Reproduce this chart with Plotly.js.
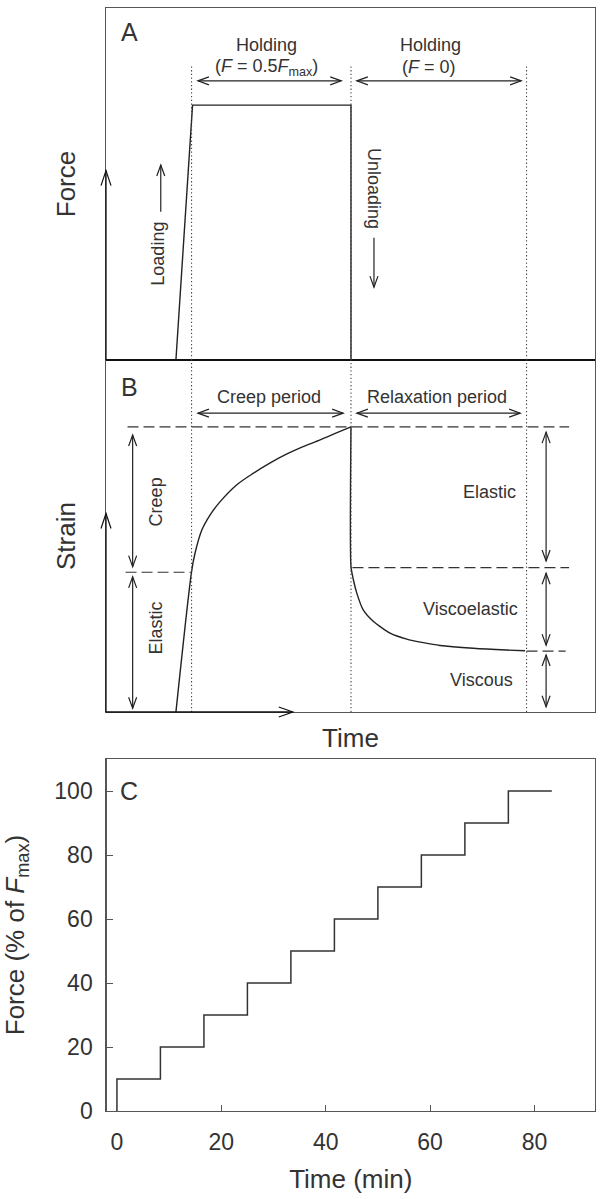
<!DOCTYPE html>
<html><head><meta charset="utf-8">
<script src="https://cdn.plot.ly/plotly-3.0.1.min.js"></script>
<style>html,body{margin:0;padding:0;background:#fff}#chart{width:601px;height:1199px}</style>
</head><body><div id="chart"></div>
<script>
// ---------- Panel A: loading protocol (schematic units) ----------
const loadTime  = [14.3, 17.7, 50.1, 50.1];
const loadForce = [0, 72.4, 72.4, 0];
const phaseTimes = [17.5, 50.1, 86.0];          // dotted phase boundaries

// ---------- Panel B: strain response (schematic units) ----------
const creepTime   = [14.3, 17.5, 18.2, 19.6, 21.3, 23.3, 26.7, 30.1, 33.5, 37.0, 40.3, 43.8, 47.0, 50.1];
const creepStrain = [0, 39.9, 45.1, 51.7, 56.0, 59.7, 64.5, 67.8, 70.7, 73.3, 75.4, 77.3, 79.2, 81.0];
const relaxTime   = [50.1, 50.1, 50.6, 51.3, 52.6, 54.7, 58.1, 61.5, 64.9, 68.3, 75.1, 81.9, 85.7];
const relaxStrain = [81.0, 41.3, 37.5, 33.7, 29.0, 25.7, 22.4, 20.7, 19.7, 18.9, 18.1, 17.6, 17.4];
const levelPeak = 81.0, levelElasticLeft = 39.7, levelElasticRight = 41.0, levelResidual = 17.3;

// ---------- Panel C: stepwise loading ----------
const stepStartMin = [0, 8.33, 16.67, 25, 33.33, 41.67, 50, 58.33, 66.67, 75];
const stepForcePct = [10, 20, 30, 40, 50, 60, 70, 80, 90, 100];
const stepEndMin = 83.33;
const xTicksC = [0, 20, 40, 60, 80];
const yTicksC = [0, 20, 40, 60, 80, 100];

// ---------- helpers ----------
const W = 601, H = 1199;
const FONT = 'Liberation Sans, Arial, sans-serif';
const TXT = '#333', LN = '#222', BOX = '#555';
const DATA = {kx: 489 / 100, ky: 352 / 100};   // px per unit in panels A and B (data refs)
const DOM = {kx: 489, ky: 352};               // px per unit for domain refs
const shapes = [];
function seg(xr, yr, x0, y0, x1, y1, opt) {
  opt = opt || {};
  shapes.push({type: 'line', xref: xr, yref: yr, x0: x0, y0: y0, x1: x1, y1: y1,
    line: {color: opt.color || LN, width: opt.width || 1.2, dash: opt.dash || 'solid'}, layer: 'above'});
}
function head(xr, yr, tx, ty, dir, len, half, color, sc) {
  sc = sc || DATA;
  const kx = sc.kx, ky = sc.ky;
  let a, b;
  if (dir === 'up')    { a = [tx - half / kx, ty - len / ky]; b = [tx + half / kx, ty - len / ky]; }
  if (dir === 'down')  { a = [tx - half / kx, ty + len / ky]; b = [tx + half / kx, ty + len / ky]; }
  if (dir === 'right') { a = [tx - len / kx, ty + half / ky]; b = [tx - len / kx, ty - half / ky]; }
  if (dir === 'left')  { a = [tx + len / kx, ty + half / ky]; b = [tx + len / kx, ty - half / ky]; }
  shapes.push({type: 'path', xref: xr, yref: yr,
    path: `M ${a[0]},${a[1]} L ${tx},${ty} L ${b[0]},${b[1]}`,
    line: {color: color || LN, width: 1.2}, layer: 'above'});
}
function hDouble(xr, yr, x0, x1, y) {
  seg(xr, yr, x0, y, x1, y);
  head(xr, yr, x0, y, 'left', 11, 4); head(xr, yr, x1, y, 'right', 11, 4);
}
function vDouble(xr, yr, x, y0, y1) {
  seg(xr, yr, x, y0, x, y1);
  head(xr, yr, x, y0, 'down', 11, 4); head(xr, yr, x, y1, 'up', 11, 4);
}

// ---------- Panel A decorations ----------
seg('x domain', 'y domain', 0, 0, 1, 0, {color: '#111', width: 2});
seg('x domain', 'y domain', 0, 0, 0, 0.538, {color: '#111', width: 1.3});
head('x domain', 'y domain', 0, 0.538, 'up', 15, 5, '#111', DOM);
phaseTimes.forEach(t => {
  seg('x', 'y', t, 0, t, 83.5, {color: '#444', width: 1.1, dash: '1.3px,2.4px'});
  seg('x2', 'y2', t, 0, t, 100, {color: '#444', width: 1.1, dash: '1.3px,2.4px'});
});
hDouble('x', 'y', 18.8, 48.1, 79.3);
hDouble('x', 'y', 51.3, 84.9, 79.3);
seg('x', 'y', 11.2, 42.1, 11.2, 55.4); head('x', 'y', 11.2, 55.4, 'up', 11, 4);
seg('x', 'y', 54.8, 34.7, 54.8, 20.7); head('x', 'y', 54.8, 20.7, 'down', 11, 4);

// ---------- Panel B decorations ----------
seg('x2 domain', 'y2 domain', 0, 0, 0, 0.564, {color: '#111', width: 1.3});
head('x2 domain', 'y2 domain', 0, 0.564, 'up', 15, 5, '#111', DOM);
seg('x2 domain', 'y2 domain', 0, 0, 0.382, 0, {color: '#111', width: 1.3});
head('x2 domain', 'y2 domain', 0.382, 0, 'right', 14, 5, '#111', DOM);
const DASH = '11px,5px';
seg('x2', 'y2', 4.4, levelPeak, 94.7, levelPeak, {color: '#333', dash: DASH});
seg('x2', 'y2', 4.0, levelElasticLeft, 17.5, levelElasticLeft, {color: '#333', dash: DASH});
seg('x2', 'y2', 50.4, levelElasticRight, 94.7, levelElasticRight, {color: '#333', dash: DASH});
seg('x2', 'y2', 86.0, levelResidual, 94.0, levelResidual, {color: '#333', dash: DASH});
hDouble('x2', 'y2', 18.8, 48.5, 84.9);
hDouble('x2', 'y2', 51.3, 84.7, 84.9);
vDouble('x2', 'y2', 5.45, 41.3, 78.7);
vDouble('x2', 'y2', 5.45, 1.05, 38.4);
vDouble('x2', 'y2', 90.0, 42.9, 79.5);
vDouble('x2', 'y2', 90.0, 19.0, 39.4);
vDouble('x2', 'y2', 90.0, 1.5, 16.2);

// ---------- traces ----------
const traces = [
  {x: loadTime, y: loadForce, xaxis: 'x', yaxis: 'y', mode: 'lines', line: {color: LN, width: 1.4}, hoverinfo: 'skip'},
  {x: creepTime, y: creepStrain, xaxis: 'x2', yaxis: 'y2', mode: 'lines', line: {color: LN, width: 1.4, shape: 'spline', smoothing: 0.8}, hoverinfo: 'skip'},
  {x: relaxTime, y: relaxStrain, xaxis: 'x2', yaxis: 'y2', mode: 'lines', line: {color: LN, width: 1.4, shape: 'spline', smoothing: 0.6}, hoverinfo: 'skip'},
  {x: [0].concat(stepStartMin, [stepEndMin]), y: [0].concat(stepForcePct, [stepForcePct[stepForcePct.length - 1]]),
   xaxis: 'x3', yaxis: 'y3', mode: 'lines', line: {color: '#333', width: 1.5, shape: 'hv'}, hoverinfo: 'skip'}
];

// ---------- annotations ----------
function ann(xr, yr, x, y, text, size, opt) {
  opt = opt || {};
  return Object.assign({xref: xr, yref: yr, x: x, y: y, text: text, showarrow: false,
    font: {family: FONT, size: size, color: TXT}, xanchor: 'center', yanchor: 'middle'}, opt);
}
const annotations = [
  ann('x', 'y', 2.6, 93.2, 'A', 25, {xanchor: 'left'}),
  ann('x', 'y', 32.9, 89.5, 'Holding', 18),
  ann('x', 'y', 32.9, 83.2, '(<i>F</i> = 0.5<i>F</i><sub>max</sub>)', 18),
  ann('x', 'y', 66.3, 89.5, 'Holding', 18),
  ann('x', 'y', 66.1, 83.2, '(<i>F</i> = 0)', 18),
  ann('x', 'y', 10.7, 30.3, 'Loading', 18, {textangle: -90}),
  ann('x', 'y', 54.8, 48.6, 'Unloading', 18, {textangle: 90}),
  ann('x2', 'y2', 2.7, 92.4, 'B', 25, {xanchor: 'left'}),
  ann('x2', 'y2', 33.3, 89.6, 'Creep period', 18),
  ann('x2', 'y2', 67.6, 89.6, 'Relaxation period', 18),
  ann('x2', 'y2', 10.2, 59.8, 'Creep', 18, {textangle: -90}),
  ann('x2', 'y2', 10.2, 24.0, 'Elastic', 18, {textangle: -90}),
  ann('x2', 'y2', 84.2, 62.4, 'Elastic', 18, {xanchor: 'right'}),
  ann('x2', 'y2', 84.6, 29.4, 'Viscoelastic', 18, {xanchor: 'right'}),
  ann('x2', 'y2', 83.6, 9.1, 'Viscous', 18, {xanchor: 'right'}),
  ann('x3', 'y3', 0.2, 100, 'C', 25, {xanchor: 'left'})
];

// ---------- layout ----------
const boxAxis = {showgrid: false, zeroline: false, showline: true, mirror: true, linecolor: BOX, linewidth: 1.2,
  ticks: '', showticklabels: false, fixedrange: true};
const layout = {
  width: W, height: H, margin: {l: 0, r: 0, t: 0, b: 0}, showlegend: false,
  paper_bgcolor: '#fff', plot_bgcolor: '#fff', font: {family: FONT, color: TXT},
  xaxis:  Object.assign({}, boxAxis, {domain: [106 / W, 595 / W], range: [0, 100], anchor: 'y'}),
  yaxis:  Object.assign({}, boxAxis, {domain: [1 - 360 / H, 1 - 8 / H], range: [0, 100], anchor: 'x',
           title: {text: 'Force', font: {size: 26, color: TXT}, standoff: 21}}),
  xaxis2: Object.assign({}, boxAxis, {domain: [106 / W, 595 / W], range: [0, 100], anchor: 'y2',
           title: {text: 'Time', font: {size: 26, color: TXT}, standoff: 16}}),
  yaxis2: Object.assign({}, boxAxis, {domain: [1 - 712 / H, 1 - 360 / H], range: [0, 100], anchor: 'x2',
           title: {text: 'Strain', font: {size: 26, color: TXT}, standoff: 21}}),
  xaxis3: {domain: [106.5 / W, 595 / W], range: [-2, 91.6], anchor: 'y3', showgrid: false, zeroline: false,
           showline: true, mirror: true, linecolor: BOX, linewidth: 1.2, ticks: 'inside', ticklen: 6, tickcolor: BOX,
           tickvals: xTicksC, ticktext: xTicksC.map(String), tickfont: {size: 23, color: TXT}, ticklabelstandoff: 10,
           title: {text: 'Time (min)', font: {size: 26, color: TXT}, standoff: 16}, fixedrange: true},
  yaxis3: {domain: [1 - 1111 / H, 1 - 759 / H], range: [0, 110], anchor: 'x3', showgrid: false, zeroline: false,
           showline: true, mirror: true, linecolor: BOX, linewidth: 1.2, ticks: 'inside', ticklen: 6, tickcolor: BOX,
           tickvals: yTicksC, ticktext: yTicksC.map(String), tickfont: {size: 23, color: TXT}, ticklabelstandoff: 8,
           title: {text: 'Force (% of <i>F</i><sub>max</sub>)', font: {size: 26, color: TXT}, standoff: 22}, fixedrange: true},
  shapes: shapes,
  annotations: annotations
};
Plotly.newPlot('chart', traces, layout, {displayModeBar: false, staticPlot: true});
</script>
</body></html>
